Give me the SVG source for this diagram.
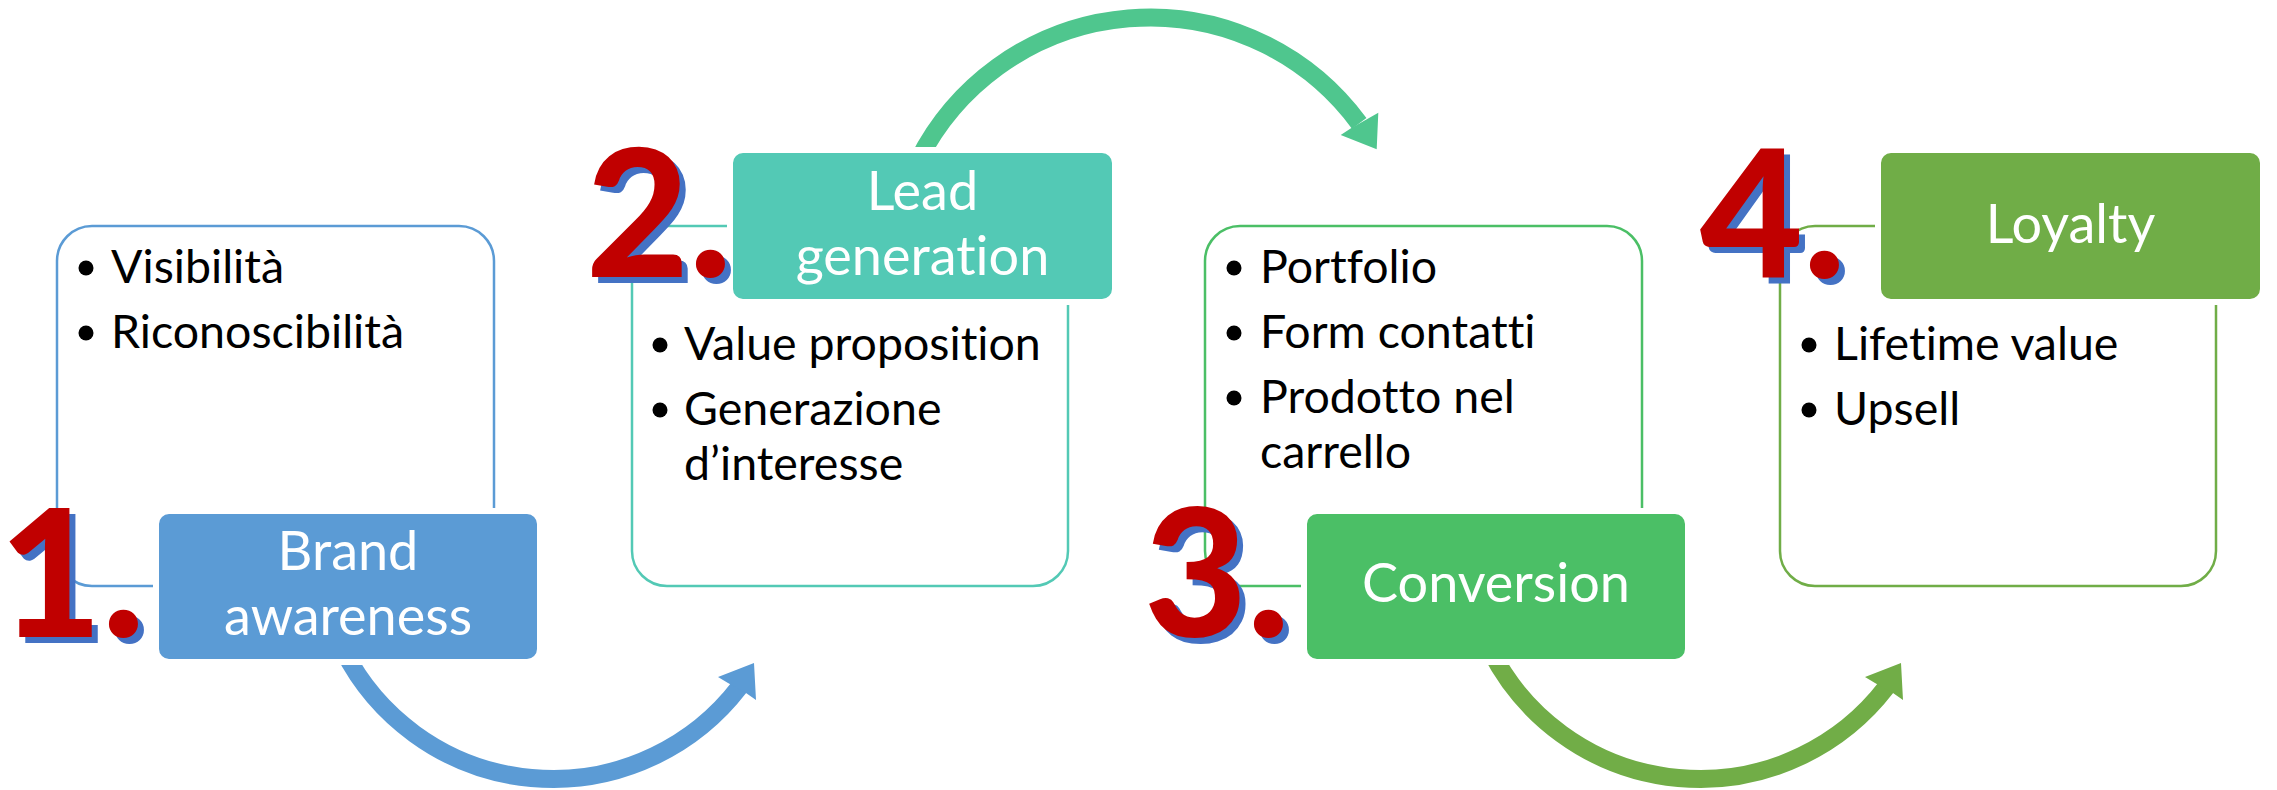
<svg xmlns="http://www.w3.org/2000/svg" width="2277" height="790" viewBox="0 0 2277 790">
  <style>
    text { font-family: Lato, "Open Sans", "Liberation Sans", sans-serif; font-variant-ligatures: none; }
    .item { font-size: 46.5px; fill: #000000; }
    .label { font-size: 54px; fill: #ffffff; text-anchor: middle; }
    .num { font-size: 178px; font-weight: 900; }
    .num-shadow { fill: #4472C4; }
    .num-main { fill: #C00000; }
    .frame { fill: none; stroke-width: 2.5; }
    .tab { stroke: #ffffff; stroke-width: 6; }
    .shaft { fill: none; stroke-width: 18; stroke-linecap: butt; }
  </style>

  <!-- curved arrows between the stages -->
  <g id="connectors">
    <g id="arrow-1-2" fill="#5B9BD5">
      <path class="shaft" stroke="#5B9BD5" d="M 343.6 650.7 A 235 235 0 0 0 739.4 687.1"/>
      <polygon points="754,663 756,700 746,693 728,683 718,677"/>
    </g>
    <g id="arrow-2-3" fill="#4FC68E">
      <path class="shaft" stroke="#4FC68E" d="M 918.4 160 A 259.5 259.5 0 0 1 1359.2 123.4"/>
      <polygon points="1376.7,149.3 1378.3,112.7 1367.3,119 1351,128.3 1340.7,135"/>
    </g>
    <g id="arrow-3-4" fill="#71AD47">
      <path class="shaft" stroke="#71AD47" d="M 1490.6 650.7 A 235 235 0 0 0 1886.4 687.1"/>
      <polygon points="1901,663 1903,700 1893,693 1875,683 1865,677"/>
    </g>
  </g>

  <!-- stage 1: Brand awareness -->
  <g id="stage-1">
    <rect class="frame" x="57" y="226" width="437" height="360" rx="35" stroke="#5B9BD5"/>
    <circle cx="86" cy="268" r="7.5"/>
    <text class="item" x="111" y="283">Visibilità</text>
    <circle cx="86" cy="333" r="7.5"/>
    <text class="item" x="111" y="348">Riconoscibilità</text>
    <rect class="tab" x="156" y="511" width="384" height="151" rx="13" fill="#5B9BD5"/>
    <text class="label" x="348" y="570">Brand</text>
    <text class="label" x="348" y="635">awareness</text>
    <text class="num num-shadow" x="5" y="643">1.</text>
    <text class="num num-main" x="-1" y="637">1.</text>
  </g>

  <!-- stage 2: Lead generation -->
  <g id="stage-2">
    <rect class="frame" x="632" y="226" width="436" height="360" rx="35" stroke="#53C9B5"/>
    <circle cx="660" cy="345" r="7.5"/>
    <text class="item" x="684" y="360">Value proposition</text>
    <circle cx="660" cy="410" r="7.5"/>
    <text class="item" x="684" y="425">Generazione</text>
    <text class="item" x="684" y="480">d’interesse</text>
    <rect class="tab" x="730" y="150" width="385" height="152" rx="13" fill="#53C9B5"/>
    <text class="label" x="922.5" y="210">Lead</text>
    <text class="label" x="922.5" y="275">generation</text>
    <text class="num num-shadow" x="592" y="283">2.</text>
    <text class="num num-main" x="586" y="277">2.</text>
  </g>

  <!-- stage 3: Conversion -->
  <g id="stage-3">
    <rect class="frame" x="1205" y="226" width="437" height="360" rx="35" stroke="#4BBF66"/>
    <circle cx="1234" cy="268" r="7.5"/>
    <text class="item" x="1260" y="283">Portfolio</text>
    <circle cx="1234" cy="333" r="7.5"/>
    <text class="item" x="1260" y="348">Form contatti</text>
    <circle cx="1234" cy="398" r="7.5"/>
    <text class="item" x="1260" y="413">Prodotto nel</text>
    <text class="item" x="1260" y="468">carrello</text>
    <rect class="tab" x="1304" y="511" width="384" height="151" rx="13" fill="#4BBF66"/>
    <text class="label" x="1496" y="602">Conversion</text>
    <text class="num num-shadow" x="1150" y="643">3.</text>
    <text class="num num-main" x="1144" y="637">3.</text>
  </g>

  <!-- stage 4: Loyalty -->
  <g id="stage-4">
    <rect class="frame" x="1780" y="226" width="436" height="360" rx="35" stroke="#70AD47"/>
    <circle cx="1809" cy="345" r="7.5"/>
    <text class="item" x="1834" y="360">Lifetime value</text>
    <circle cx="1809" cy="410" r="7.5"/>
    <text class="item" x="1834" y="425">Upsell</text>
    <rect class="tab" x="1878" y="150" width="385" height="152" rx="13" fill="#70AD47"/>
    <text class="label" x="2070.5" y="243">Loyalty</text>
    <text class="num num-shadow" x="1706" y="284">4.</text>
    <text class="num num-main" x="1700" y="278">4.</text>
  </g>
</svg>
